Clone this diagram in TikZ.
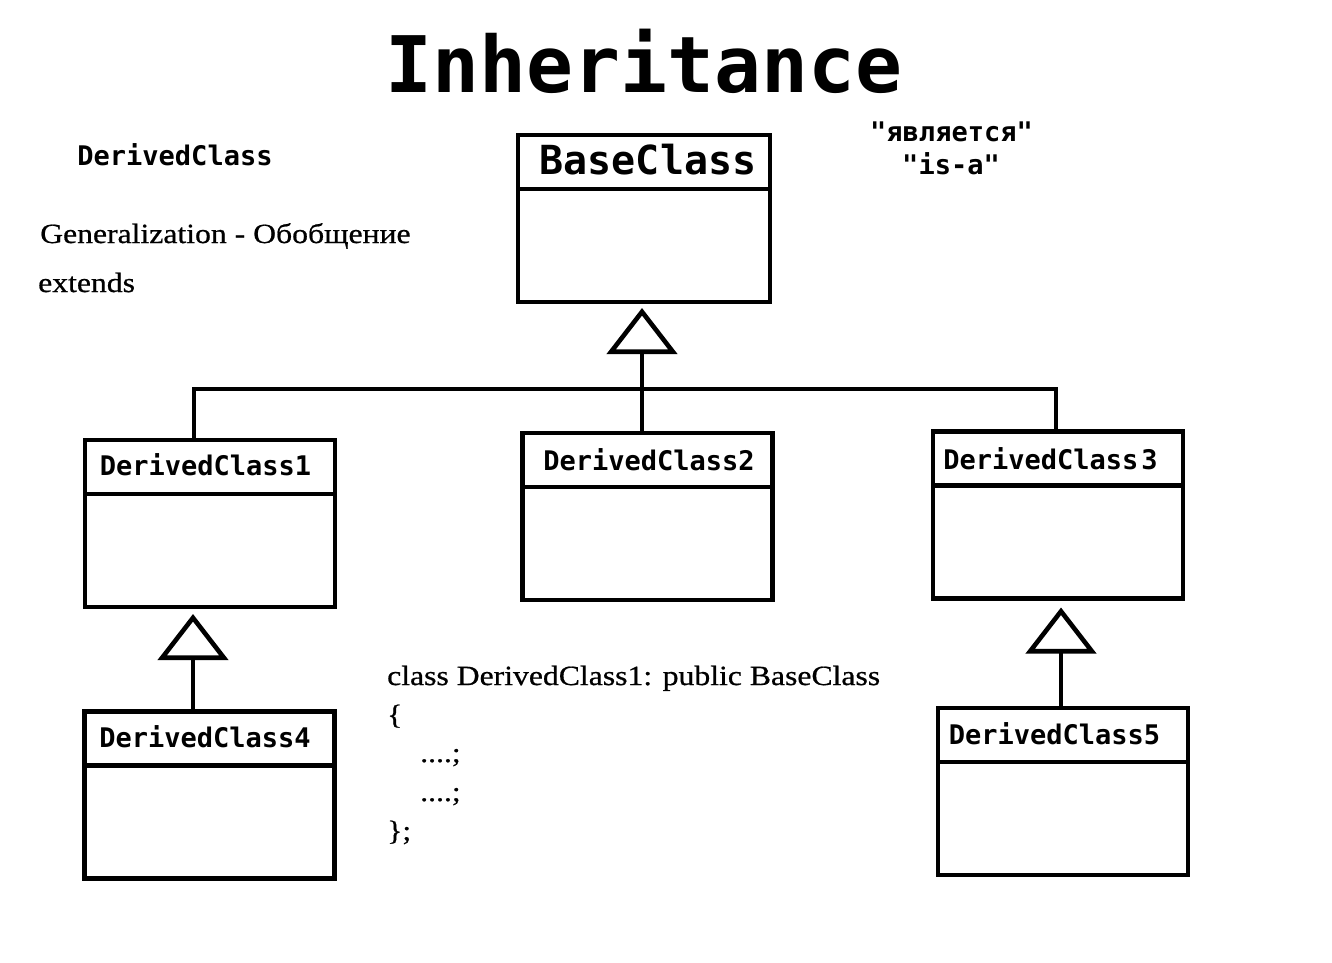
\documentclass[tikz,border=0pt]{standalone}
\usepackage{fontspec}
\setmainfont{Liberation Serif}[FakeStretch=1.14, FakeBold=0.7]
\newfontfamily\monob{DejaVu Sans Mono}[Ligatures=TeXOff]
\usetikzlibrary{arrows.meta}
\tikzset{
  classbox/.style={draw, line width=4.6pt, inner sep=0pt, outer sep=0pt,
    minimum width=250pt, minimum height=167pt},
  cname/.style={font=\monob\bfseries\fontsize{27}{27}\selectfont, anchor=base, inner sep=0pt},
  serif/.style={font=\fontsize{27.8}{30}\selectfont, anchor=base west, inner sep=0pt},
  conn/.style={line width=4.6pt},
  inh/.style={conn, -{Triangle[open, length=46pt, width=70pt]}},
}
\begin{document}
\begin{tikzpicture}[x=1pt,y=-1pt]
\useasboundingbox[fill=white] (0,0) rectangle (1332,962);

% title and notes
\node[font=\monob\bfseries\fontsize{78}{78}\selectfont, anchor=base, inner sep=0pt] (title) at (644,92) {Inheritance};
\node[cname] (lbl) at (175,165) {DerivedClass};
\node[cname] (isr) at (951.5,141) {"является"};
\node[cname] (isa) at (951,174) {"is-a"};
\node[serif] (gen) at (40,243) {Generalization - Обобщение};
\node[serif] (ext) at (38,292) {extends};

% class boxes
\node[classbox, minimum width=252pt] (base) at (644,218.5) {};
\node[classbox] (d1) at (210,523.5) {};
\node[classbox] (d2) at (647.5,516.5) {};
\node[classbox] (d3) at (1058,515) {};
\node[classbox] (d4) at (209.5,795) {};
\node[classbox] (d5) at (1063,791.5) {};
\foreach \n in {base,d1,d2,d3,d4,d5}
  \draw[conn] ([yshift=-54pt]\n.north west) -- ([yshift=-54pt]\n.north east);

% class names
\node[cname, font=\monob\bfseries\fontsize{40}{40}\selectfont] (tbase) at (648,174) {BaseClass};
\node[cname] (t1) at (205.5,475) {DerivedClass1};
\node[cname] (t2) at (649,470) {DerivedClass2};
\node[cname] (t3) at (1050.5,469) {DerivedClass\kern3pt 3};
\node[cname] (t4) at (205,747) {DerivedClass4};
\node[cname] (t5) at (1054.5,744) {DerivedClass5};

% connectors
\coordinate (j1) at (194,389);
\coordinate (j3) at (1056,389);
\coordinate (s0) at (642,0);
\coordinate (s1) at (193,0);
\coordinate (s3) at (1061,0);
\draw[conn] (j1 |- d1.north) -- (j1) -- (j3) -- (j3 |- d3.north);
\draw[inh, shorten >=6pt] (s0 |- d2.north) -- (s0 |- base.south);
\draw[inh, shorten >=7pt] (s1 |- d4.north) -- (s1 |- d1.south);
\draw[inh, shorten >=9pt] (s3 |- d5.north) -- (s3 |- d3.south);

% code
\node[serif] (c1) at (387,685) {class DerivedClass1: public BaseClass};
\node[serif] (c2) at (387,724) {\{};
\node[serif] (c3) at (420,762) {....;};
\node[serif] (c4) at (420,801) {....;};
\node[serif] (c5) at (387,840) {\};};
\end{tikzpicture}
\end{document}
